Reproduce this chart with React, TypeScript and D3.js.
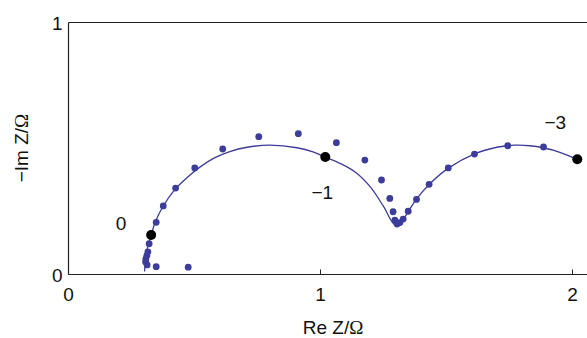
import React from "react";
import * as d3 from "d3";

// Measured impedance points (Re Z, -Im Z)
const dataRe = [0.312, 0.306, 0.307, 0.311, 0.315, 0.32, 0.348, 0.376, 0.425, 0.501, 0.612, 0.755, 0.912, 1.063, 1.176, 1.242, 1.275, 1.288, 1.295, 1.304, 1.315, 1.328, 1.348, 1.381, 1.431, 1.507, 1.611, 1.743, 1.885, 0.348, 0.475];
const dataIm = [0.038, 0.05, 0.062, 0.075, 0.09, 0.122, 0.207, 0.272, 0.343, 0.423, 0.498, 0.547, 0.559, 0.523, 0.454, 0.375, 0.302, 0.249, 0.216, 0.2, 0.206, 0.22, 0.251, 0.298, 0.358, 0.423, 0.478, 0.511, 0.506, 0.031, 0.029];

// Fitted curve
const fitRe = [0.302, 0.306, 0.314, 0.328, 0.345, 0.375, 0.42, 0.471, 0.52, 0.577, 0.64, 0.709, 0.8, 0.907, 0.97, 1.016, 1.08, 1.14, 1.2, 1.25, 1.294, 1.31, 1.328, 1.35, 1.38, 1.433, 1.509, 1.611, 1.7, 1.77, 1.83, 1.884, 1.95, 2.019];
const fitIm = [0.012, 0.06, 0.11, 0.157, 0.21, 0.27, 0.335, 0.385, 0.425, 0.462, 0.488, 0.505, 0.513, 0.503, 0.487, 0.467, 0.44, 0.405, 0.345, 0.27, 0.198, 0.203, 0.219, 0.253, 0.298, 0.359, 0.423, 0.479, 0.505, 0.513, 0.511, 0.503, 0.485, 0.457];

// Marked frequency points (log f labels)
const markRe = [0.328, 1.019, 2.019];
const markIm = [0.157, 0.466, 0.457];
const markLabels = ["0", "\u22121", "\u22123"];

const xTicks = [0, 1, 2];
const yTicks = [0, 1];

const labelOffsets = [
  { dx: -30, dy: -12 },
  { dx: -3, dy: 35 },
  { dx: -22, dy: -37 },
];

const W = 587;
const H = 338;
const BLUE = "#3c3c9a";
const FONT = "'Liberation Sans', Arial, sans-serif";
const FS = 19;

export default function App() {
  const x = d3.scaleLinear().domain([0, 2]).range([68.5, 572.5]);
  const y = d3.scaleLinear().domain([0, 1]).range([274.5, 22.5]);
  const line = d3
    .line<number>()
    .x((_, i) => x(fitRe[i]))
    .y((_, i) => y(fitIm[i]))
    .curve(d3.curveCatmullRom.alpha(0.5));
  const x0 = x(0);
  const xEnd = W;
  return (
    <svg
      width={W}
      height={H}
      style={{ position: "absolute", left: 0, top: 0, background: "#fff" }}
      fontFamily={FONT}
      fontSize={FS}
    >
      {/* frame */}
      <line x1={x0} x2={xEnd} y1={y(1)} y2={y(1)} stroke="#222" strokeWidth={1.2} />
      <line x1={x0} x2={xEnd} y1={y(0)} y2={y(0)} stroke="#222" strokeWidth={1.2} />
      <line x1={x0} x2={x0} y1={y(1)} y2={y(0)} stroke="#222" strokeWidth={1.2} />
      {xTicks.map((t) => (
        <g key={"xt" + t}>
          <line x1={x(t)} x2={x(t)} y1={y(0)} y2={y(0) - 5} stroke="#222" strokeWidth={1} />
          <text x={x(t)} y={y(0) + 26} textAnchor="middle" fill="#111">
            {t}
          </text>
        </g>
      ))}
      {yTicks.map((t) => (
        <text key={"yt" + t} x={x0 - 6} y={y(t) + 7} textAnchor="end" fill="#111">
          {t}
        </text>
      ))}
      <text x={333} y={334} textAnchor="middle" fill="#111">
        Re Z/<tspan fontFamily="'Liberation Serif', 'Times New Roman', serif">Ω</tspan>
      </text>
      <text
        transform={`translate(28,148) rotate(-90)`}
        textAnchor="middle"
        fill="#111"
      >
        {"\u2212Im Z/"}
        <tspan fontFamily="'Liberation Serif', 'Times New Roman', serif">Ω</tspan>
      </text>
      {/* fit line */}
      <path d={line(fitRe) || ""} fill="none" stroke={BLUE} strokeWidth={1.3} />
      {/* data points */}
      {dataRe.map((v, i) => (
        <circle key={"d" + i} cx={x(v)} cy={y(dataIm[i])} r={3.4} fill={BLUE} />
      ))}
      {/* marked points */}
      {markRe.map((v, i) => (
        <g key={"m" + i}>
          <circle cx={x(v)} cy={y(markIm[i])} r={5} fill="#000" />
          <text
            x={x(v) + labelOffsets[i].dx}
            y={y(markIm[i]) + labelOffsets[i].dy + 7}
            textAnchor="middle"
            fill="#111"
          >
            {markLabels[i]}
          </text>
        </g>
      ))}
    </svg>
  );
}
